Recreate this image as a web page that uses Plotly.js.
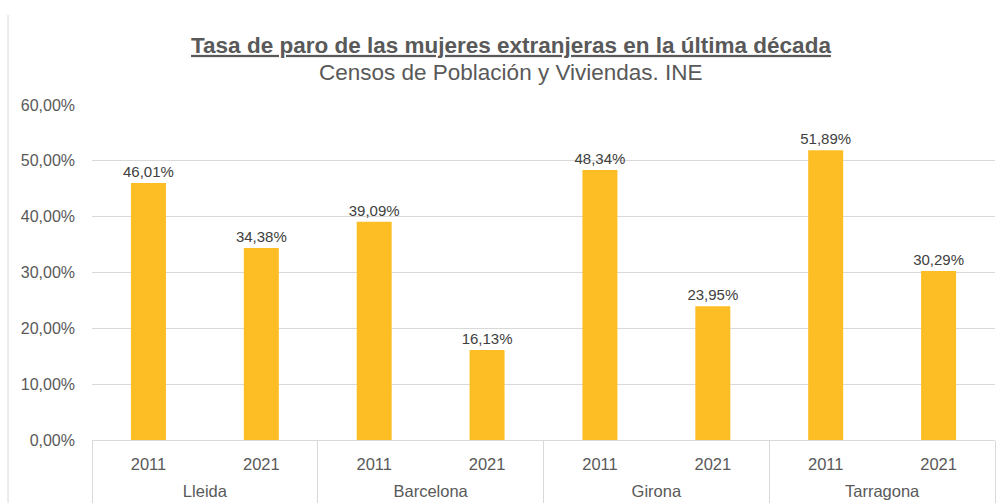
<!DOCTYPE html>
<html><head><meta charset="utf-8">
<script src="https://cdn.plot.ly/plotly-3.0.1.min.js"></script>
<style>html,body{margin:0;padding:0;background:#fff}#c{width:998px;height:503px}</style>
</head><body><div id="c"></div>
<script>
const provinces = ['Lleida','Lleida','Barcelona','Barcelona','Girona','Girona','Tarragona','Tarragona'];
const years = ['2011','2021','2011','2021','2011','2021','2011','2021'];
const rates = [0.4601, 0.3438, 0.3909, 0.1613, 0.4834, 0.2395, 0.5189, 0.3029];
const titleText = 'Tasa de paro de las mujeres extranjeras en la última década';
const subtitleText = 'Censos de Población y Viviendas. INE';

const font = 'Liberation Sans, Arial, sans-serif';
const keys = provinces.map((p, i) => p + ' ' + years[i]);
const groups = provinces.filter((p, i) => provinces.indexOf(p) === i);

const bars = {
  type: 'bar',
  x: keys,
  y: rates,
  marker: {color: '#FDBE25'},
  texttemplate: '%{y:.2%}',
  textposition: 'outside',
  constraintext: 'none',
  cliponaxis: false,
  textfont: {family: font, size: 15, color: '#404040'},
  hoverinfo: 'skip'
};
const groupTrace = {
  type: 'scatter', mode: 'markers',
  x: groups, y: groups.map(() => 0),
  xaxis: 'x2', yaxis: 'y',
  marker: {opacity: 0}, hoverinfo: 'skip', showlegend: false
};
const layout = {
  width: 998, height: 503,
  margin: {l: 92, r: 3, t: 105, b: 63},
  paper_bgcolor: '#fff', plot_bgcolor: '#fff',
  separators: ',.',
  bargap: 0.69,
  showlegend: false,
  font: {family: font, color: '#595959'},
  title: {
    text: '<b>' + titleText + '</b>',
    font: {family: font, size: 22.5, color: '#595959', lineposition: 'under'},
    xref: 'container', x: 0.512, xanchor: 'center',
    yref: 'container', y: 1 - 45/503, yanchor: 'middle'
  },
  annotations: [{
    text: subtitleText, showarrow: false,
    xref: 'paper', x: (511 - 92) / 903, xanchor: 'center',
    yref: 'paper', y: (440 - 72) / 335, yanchor: 'middle',
    font: {family: font, size: 22.5, color: '#595959'}
  }],
  yaxis: {
    range: [0, 0.6], dtick: 0.1, tickformat: '.2%',
    gridcolor: '#d9d9d9', gridwidth: 1, zeroline: false,
    showline: false, ticks: '', ticklabelstandoff: 16,
    tickfont: {family: font, size: 16, color: '#595959'},
    automargin: false, fixedrange: true
  },
  xaxis: {
    type: 'category', tickvals: keys, ticktext: years,
    showline: true, linecolor: '#d9d9d9', linewidth: 1, showgrid: false,
    ticks: '', ticklabelstandoff: 9,
    tickfont: {family: font, size: 16.5, color: '#595959'},
    automargin: false, fixedrange: true
  },
  xaxis2: {
    type: 'category', overlaying: 'x', anchor: 'y', side: 'bottom',
    range: [-0.5, groups.length - 0.5],
    showline: false, showgrid: false, zeroline: false,
    ticks: 'outside', tickson: 'boundaries', ticklen: 63, tickwidth: 1, tickcolor: '#d9d9d9',
    ticklabelstandoff: 39,
    tickfont: {family: font, size: 16.5, color: '#595959'},
    automargin: false, fixedrange: true
  },
  shapes: [{
    type: 'line', xref: 'paper', yref: 'paper',
    x0: -0.093, x1: -0.093, y0: 1.2687, y1: -0.2,
    line: {color: '#d9d9d9', width: 1}
  }]
};
Plotly.newPlot('c', [bars, groupTrace], layout, {staticPlot: true, displayModeBar: false});
</script></body></html>
